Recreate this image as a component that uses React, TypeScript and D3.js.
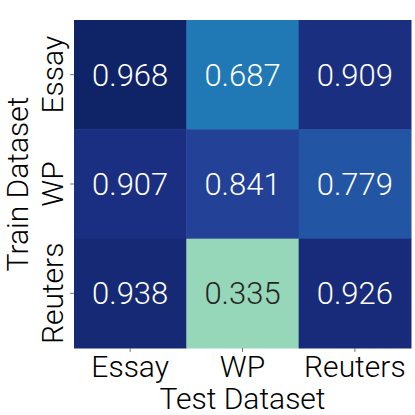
import React from 'react';
import * as d3 from 'd3';

const trainSets = ['Essay', 'WP', 'Reuters'];
const testSets = ['Essay', 'WP', 'Reuters'];
const essayRow = [0.968, 0.687, 0.909];
const wpRow = [0.907, 0.841, 0.779];
const reutersRow = [0.938, 0.335, 0.926];
const rows = [essayRow, wpRow, reutersRow];

const font = 'Roboto, "DejaVu Sans", sans-serif';

const App = () => {
  const width = 415, height = 415;
  const margin = {top: 20, right: 4, bottom: 67, left: 74};

  const x = d3.scaleBand().domain(testSets).range([margin.left, width - margin.right]);
  const y = d3.scaleBand().domain(trainSets).range([margin.top, height - margin.bottom]);
  const color = d3.scaleSequential(d3.interpolateYlGnBu).domain([0, 1]);

  const cells = rows.flatMap((r, i) => r.map((v, j) => ({train: trainSets[i], test: testSets[j], v})));

  const textColor = (v: number) => {
    const c = d3.rgb(color(v));
    const lum = (0.299 * c.r + 0.587 * c.g + 0.114 * c.b) / 255;
    return lum > 0.5 ? '#262626' : '#ffffff';
  };

  const bottom = height - margin.bottom;

  return (
    <svg width={width} height={height} style={{position: 'absolute', left: 0, top: 0}} fontFamily={font} fontWeight={300}>
      <rect width={width} height={height} fill="#fff" />
      {cells.map((c, i) => (
        <g key={i}>
          <rect x={x(c.test)} y={y(c.train)} width={x.bandwidth() + 0.5} height={y.bandwidth() + 0.5} fill={color(c.v)} />
          <text x={x(c.test)! + x.bandwidth() / 2} y={y(c.train)! + y.bandwidth() / 2} dy="0.36em"
            textAnchor="middle" fontSize={31} fill={textColor(c.v)}>{c.v.toFixed(3)}</text>
        </g>
      ))}
      {testSets.map(t => {
        const cx = x(t)! + x.bandwidth() / 2;
        return (
          <g key={'x' + t}>
            <line x1={cx} x2={cx} y1={bottom} y2={bottom + 4} stroke="#555" strokeWidth={0.8} />
            <text x={cx} y={377} textAnchor="middle" fontSize={30} fill="#000">{t}</text>
          </g>
        );
      })}
      {trainSets.map(t => {
        const cy = y(t)! + y.bandwidth() / 2;
        return (
          <g key={'y' + t}>
            <line x1={margin.left - 4} x2={margin.left} y1={cy} y2={cy} stroke="#555" strokeWidth={0.8} />
            <text transform={`translate(63,${cy}) rotate(-90)`} textAnchor="middle" fontSize={30} fill="#000">{t}</text>
          </g>
        );
      })}
      <text x={(margin.left + width - margin.right) / 2} y={409} textAnchor="middle" fontSize={30} fill="#000">Test Dataset</text>
      <text transform={`translate(28,${(margin.top + bottom) / 2}) rotate(-90)`} textAnchor="middle" fontSize={30} fill="#000">Train Dataset</text>
    </svg>
  );
};

export default App;
